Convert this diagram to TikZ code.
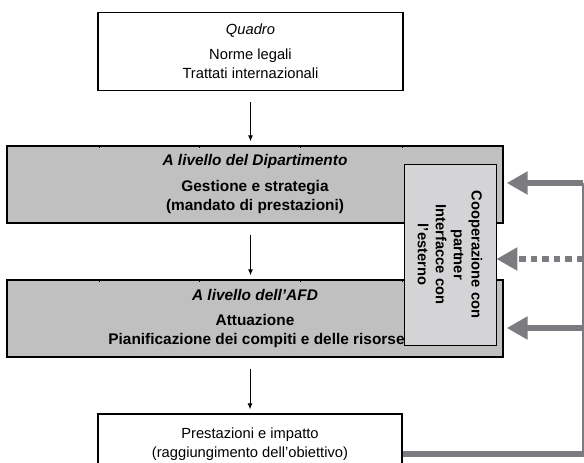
\documentclass[tikz,border=0pt]{standalone}
\usepackage{fontspec}
\setmainfont{Liberation Sans}
\usetikzlibrary{arrows.meta}

\definecolor{boxgray}{RGB}{192,192,192}
\definecolor{sidegray}{RGB}{212,212,214}
\definecolor{fbgray}{RGB}{124,124,128}

\newcommand{\diagfont}{\fontsize{14.7}{19}\selectfont}

\tikzset{
  plainbox/.style={draw=black, line width=1.4pt, fill=white, minimum width=305pt,
    minimum height=78pt, inner sep=0pt, align=center, font=\diagfont},
  levelbox/.style={draw=black, line width=1.4pt, fill=boxgray, minimum width=496pt,
    minimum height=77pt, inner sep=0pt, align=center,
    font=\fontsize{15.4}{19}\selectfont\bfseries},
  sidebox/.style={draw=black, line width=0.8pt, fill=sidegray, minimum width=181pt,
    minimum height=92pt, inner sep=0pt, align=center, rotate=-90,
    font=\fontsize{14.7}{18}\selectfont\bfseries},
  flow/.style={line width=0.9pt, -{Latex[length=6pt,width=5pt]},
    shorten <=11pt, shorten >=4pt},
  fbline/.style={draw=fbgray, line width=6pt},
  fbarrow/.style={fbline, -{Triangle[length=21pt,width=22pt]}, shorten >=3pt},
}

\begin{document}
\begin{tikzpicture}[x=1pt,y=-1pt]
  \useasboundingbox (0,0) rectangle (584,463);
  \clip (0,0) rectangle (584,463);

  % boxes
  \node[plainbox] (quadro) at (250.5,51.5)
    {\textit{Quadro}\\[6pt] Norme legali\\ Trattati internazionali};
  \node[levelbox] (dip) at (255,184.5)
    {\textit{A livello del Dipartimento}\\[7pt] Gestione e strategia\\ (mandato di prestazioni)};
  \node[levelbox] (afd) at (255,318.5)
    {\textit{A livello dell’AFD}\\[6pt] Attuazione\\ \hspace*{3pt}Pianificazione dei compiti e delle risorse};
  \node[plainbox, minimum width=304pt, minimum height=60pt] (prest) at (250,444)
    {Prestazioni e impatto\\ (raggiungimento dell’obiettivo)};

  % small marks on the grey boxes
  \foreach \tx in {93,193,294,396} {
    \draw[line width=0.6pt] ([xshift=\tx pt]dip.north west) -- ++(0,3);
    \draw[line width=0.6pt] ([xshift=\tx pt]afd.north west) -- ++(0,3);
  }

  \node[sidebox] (side) at (450,254.5)
    {Cooperazione con\\ partner\\ Interfacce con\\ l’esterno};

  % main flow
  \draw[flow] (quadro) -- (quadro |- dip.north);
  \draw[flow] (dip.south -| quadro) -- (quadro |- afd.north);
  \draw[flow] (afd.south -| prest.north) -- (prest.north);

  % feedback
  \coordinate (fbcorner) at (583,454);
  \coordinate (fbend) at (592,454);
  \coordinate (fbdip) at (583,183);
  \coordinate (fbside) at (583,259);
  \coordinate (fbafd) at (583,328);
  \draw[fbline] (prest.east |- fbcorner) -- (fbend);
  \draw[fbgray, line width=1.5pt] (fbcorner) -- (fbdip);
  \draw[fbarrow] (fbdip) -- (fbdip -| dip.east);
  \draw[fbarrow, dash pattern=on 6.5pt off 5pt, shorten >=0pt] (fbside) -- (fbside -| side.north);
  \draw[fbarrow] (fbafd) -- (fbafd -| afd.east);
\end{tikzpicture}
\end{document}
